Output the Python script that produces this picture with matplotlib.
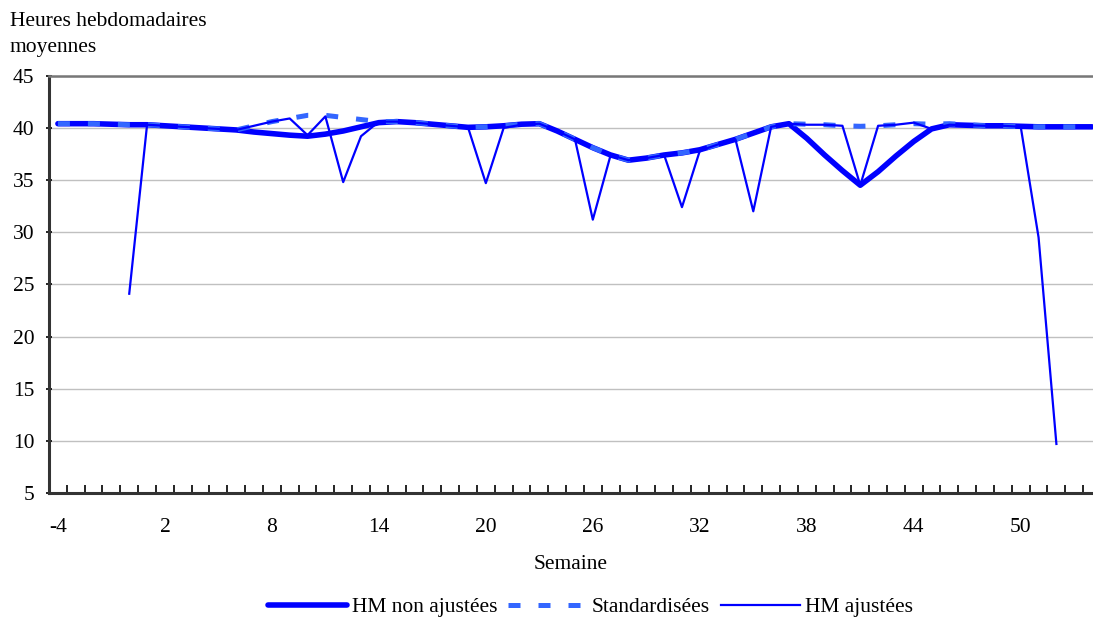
import numpy as np
import matplotlib
matplotlib.use("Agg")
import matplotlib.pyplot as plt

plt.rcParams['font.family'] = ['Liberation Serif', 'DejaVu Serif']

# === Data ================================================
weeks = list(range(-4, 55))

hm_non_ajustees = [
    40.4, 40.4, 40.4, 40.35, 40.3, 40.3, 40.2, 40.1, 40.0, 39.9,
    39.8, 39.6, 39.45, 39.3, 39.2, 39.4, 39.7, 40.1, 40.5, 40.6,
    40.5, 40.35, 40.2, 40.05, 40.1, 40.2, 40.35, 40.4, 39.7, 38.9,
    38.1, 37.4, 36.9, 37.1, 37.4, 37.6, 37.9, 38.4, 38.9, 39.5,
    40.1, 40.4, 39.0, 37.4, 35.9, 34.5, 35.8, 37.3, 38.7, 39.9,
    40.3, 40.25, 40.2, 40.2, 40.15, 40.1, 40.1, 40.1, 40.1,
]

standardisees = [
    40.4, 40.4, 40.4, 40.35, 40.3, 40.3, 40.2, 40.1, 40.0, 39.9,
    39.8, 40.2, 40.6, 40.9, 41.2, 41.2, 41.0, 40.8, 40.6, 40.6,
    40.5, 40.35, 40.2, 40.05, 40.1, 40.2, 40.35, 40.4, 39.7, 38.9,
    38.1, 37.4, 36.9, 37.1, 37.4, 37.6, 37.9, 38.4, 38.9, 39.5,
    40.1, 40.4, 40.35, 40.3, 40.2, 40.15, 40.2, 40.3, 40.4, 40.35,
    40.4, 40.3, 40.2, 40.2, 40.1, 40.1, 40.1, 40.1, 40.1,
]

# adjusted series starts at week 0, ends at week 52
hm_ajustees_start = 0
hm_ajustees = [
    24.1, 40.3, 40.2, 40.1, 40.0, 39.9,
    39.8, 40.2, 40.6, 40.9, 39.3, 41.1, 34.8, 39.2, 40.6, 40.6,
    40.5, 40.35, 40.2, 40.05, 34.7, 40.0, 40.3, 40.4, 39.7, 38.9,
    31.2, 37.4, 36.9, 37.1, 37.4, 32.4, 37.8, 38.4, 38.9, 32.0,
    40.1, 40.4, 40.3, 40.3, 40.2, 34.5, 40.2, 40.3, 40.5, 39.9,
    40.3, 40.25, 40.2, 40.2, 40.1, 29.5, 9.7,
]

y_ticks = [5, 10, 15, 20, 25, 30, 35, 40, 45]
x_labels = list(range(-4, 51, 6))

FS = 15.5

# === Figure ================================================
fig = plt.figure(figsize=(10.93, 6.18), dpi=100)
ax = fig.add_axes([49/1093, 1 - 493/618, 1044/1093, (493 - 75.7)/618])

ax.plot(weeks, hm_non_ajustees, color='#0000FF', lw=4.0,
        solid_capstyle='round', label='HM non ajustées', zorder=3)
ax.plot(weeks, standardisees, color='#3366FF', lw=3.6,
        linestyle=(0, (2.4, 3.6)), dash_capstyle='butt',
        label='Standardisées', zorder=4)
i0 = weeks.index(hm_ajustees_start)
ax.plot(weeks[i0:i0 + len(hm_ajustees)], hm_ajustees, color='#0000FF', lw=1.6,
        label='HM ajustées', zorder=5)

# axes
ax.set_yticks(y_ticks)
ax.yaxis.grid(True, color='#C0C0C0', lw=1.0)
ax.set_axisbelow(True)
ax.tick_params(axis='y', labelsize=FS, length=5, width=1.2,
               direction='inout', pad=8)

ax.set_xticks(x_labels)
ax.set_xticks(np.arange(-4.5, 55, 1), minor=True)
ax.tick_params(axis='x', which='major', length=0, labelsize=FS, pad=18)
ax.tick_params(axis='x', which='minor', length=6, width=1.2, direction='in')
ax.set_xticklabels([str(v) for v in x_labels])

# limits after ticks, set_xticks would widen them
ax.set_ylim(5, 45)
ax.set_xlim(-4.5, -4.5 + 1044/17.83)

for side in ('left', 'bottom'):
    ax.spines[side].set_linewidth(2.2)
    ax.spines[side].set_color('#333333')
ax.spines['top'].set_linewidth(1.8)
ax.spines['top'].set_color('#777777')
ax.spines['right'].set_visible(False)

ax.set_xlabel('Semaine', fontsize=FS, labelpad=13)

fig.text(10/1093, 1 - 12/618, 'Heures hebdomadaires\nmoyennes',
         fontsize=FS, va='top', ha='left', linespacing=1.5)

fig.legend(loc='center', bbox_to_anchor=(0.54, 1 - 607/618), ncol=3,
           frameon=False, fontsize=FS, handlelength=3.7,
           handletextpad=0.2, columnspacing=0.5)

fig.savefig('out.png', dpi=100)
